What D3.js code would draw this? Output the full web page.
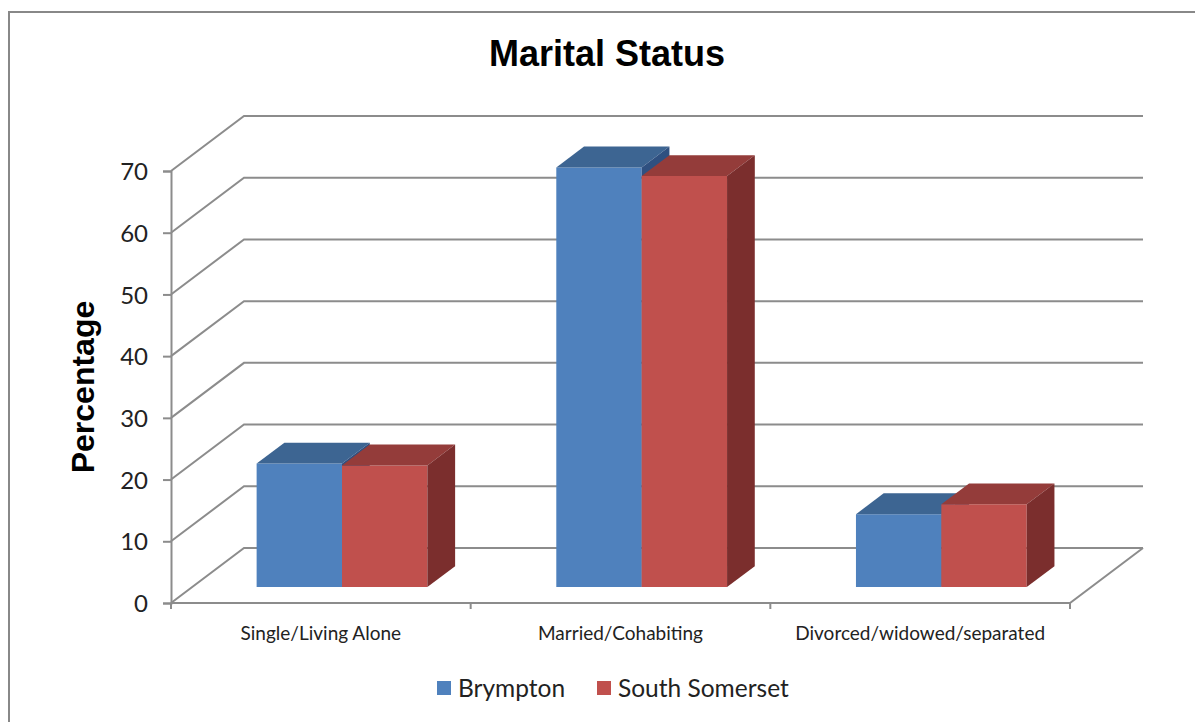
<!DOCTYPE html>
<html>
<head>
<meta charset="utf-8">
<script src="https://cdn.jsdelivr.net/npm/d3@7"></script>
<style>
  body { margin: 0; background: #fff; }
  svg { display: block; }
</style>
</head>
<body>
<div id="chart"></div>
<script>
// Data
const categories = ["Single/Living Alone", "Married/Cohabiting", "Divorced/widowed/separated"];
const seriesNames = ["Brympton", "South Somerset"];
const brympton = [20.0, 68.0, 11.8];
const southSomerset = [19.7, 66.6, 13.4];
const yTicks = [0, 10, 20, 30, 40, 50, 60, 70];

const width = 1195, height = 722;
const svg = d3.select("#chart").append("svg")
    .attr("width", width)
    .attr("height", height);

// Outer chart border
svg.append("rect")
    .attr("x", 9).attr("y", 12)
    .attr("width", 1200).attr("height", 720)
    .attr("fill", "none")
    .attr("stroke", "#888")
    .attr("stroke-width", 2);

// Title
svg.append("text")
    .attr("x", 607).attr("y", 66)
    .attr("text-anchor", "middle")
    .style("font-family", "Liberation Sans, Arial, sans-serif")
    .style("font-size", "36px")
    .style("font-weight", "bold")
    .text("Marital Status");

// Scales (front plane), plus oblique depth
const y = d3.scaleLinear().domain([0, 70]).range([603, 171]);
const x0 = d3.scaleBand().domain(categories).range([171, 1070]);
const x1 = d3.scaleBand().domain(seriesNames).range([0, x0.bandwidth()]).paddingOuter(0.755);
const depthX = 73, depthY = -55;
const proj = (px, v, z) => [px + depthX * z, y(v) + depthY * z];
const pts = arr => arr.map(p => p.join(",")).join(" ");

const grid = svg.append("g").attr("stroke", "#8c8c8c").attr("stroke-width", 2).attr("fill", "none");

// back wall gridlines and side-wall diagonals
yTicks.forEach(t => {
    grid.append("polyline")
        .attr("points", pts([proj(171, t, 0), proj(171, t, 1), proj(1070, t, 1)]));
});
// floor front edge and right diagonal
grid.append("polyline").attr("points", pts([proj(171, 0, 0), proj(1070, 0, 0), proj(1070, 0, 1)]));

// y axis line + ticks
const yAxis = svg.append("g")
    .attr("transform", "translate(171,0)")
    .call(d3.axisLeft(y).tickValues(yTicks).tickSize(8).tickPadding(15));
yAxis.select(".domain").attr("stroke", "#8c8c8c").attr("stroke-width", 2);
yAxis.selectAll(".tick line").attr("stroke", "#8c8c8c").attr("stroke-width", 2);
yAxis.selectAll(".tick text")
    .style("font-family", "Lato, Carlito, sans-serif")
    .style("font-size", "24px")
    .attr("fill", "#222")
    .attr("dy", "0.36em");

// x ticks on floor front edge
const xTickPos = [171].concat(categories.map(c => x0(c) + x0.bandwidth()));
svg.append("g").selectAll("line")
    .data(xTickPos)
    .join("line")
    .attr("x1", d => d).attr("x2", d => d)
    .attr("y1", 603).attr("y2", 609)
    .attr("stroke", "#8c8c8c").attr("stroke-width", 2);

// Category labels
svg.append("g").selectAll("text")
    .data(categories)
    .join("text")
    .attr("x", d => x0(d) + x0.bandwidth() / 2)
    .attr("y", 640)
    .attr("text-anchor", "middle")
    .style("font-family", "Lato, Carlito, sans-serif")
    .style("font-size", "19px")
    .attr("fill", "#222")
    .text(d => d);

// Axis title
svg.append("text")
    .attr("transform", "translate(94,387) rotate(-90)")
    .attr("text-anchor", "middle")
    .style("font-family", "Liberation Sans, Arial, sans-serif")
    .style("font-size", "32px")
    .style("font-weight", "bold")
    .text("Percentage");

// 3D bars
const palette = {
    Brympton: { front: "#4f81bd", top: "#3d6592", side: "#2f5080" },
    "South Somerset": { front: "#c0504d", top: "#943c3a", side: "#7b2e2d" }
};
const zFront = 0.29, zBack = 0.67;
const barData = [];
categories.forEach((c, i) => {
    barData.push({ cat: c, series: "Brympton", value: brympton[i] });
    barData.push({ cat: c, series: "South Somerset", value: southSomerset[i] });
});

const bars = svg.append("g").selectAll("g")
    .data(barData)
    .join("g");

bars.each(function(d) {
    const g = d3.select(this);
    const col = palette[d.series];
    const xl = x0(d.cat) + x1(d.series);
    const xr = xl + x1.bandwidth();
    const fbl = proj(xl, 0, zFront), fbr = proj(xr, 0, zFront);
    const ftl = proj(xl, d.value, zFront), ftr = proj(xr, d.value, zFront);
    const btl = proj(xl, d.value, zBack), btr = proj(xr, d.value, zBack);
    const bbr = proj(xr, 0, zBack);
    g.append("polygon").attr("points", pts([fbl, fbr, ftr, ftl])).attr("fill", col.front);
    g.append("polygon").attr("points", pts([ftl, ftr, btr, btl])).attr("fill", col.top);
    g.append("polygon").attr("points", pts([fbr, bbr, btr, ftr])).attr("fill", col.side);
});

// Legend
const legend = svg.append("g").attr("transform", "translate(437,688)");
const legendX = [0, 160];
seriesNames.forEach((s, i) => {
    const row = legend.append("g").attr("transform", `translate(${legendX[i]},0)`);
    row.append("rect")
        .attr("x", 0).attr("y", -7)
        .attr("width", 14).attr("height", 14)
        .attr("fill", palette[s].front);
    row.append("text")
        .attr("x", 21).attr("y", 9)
        .style("font-family", "Lato, Carlito, sans-serif")
        .style("font-size", "24.5px")
        .attr("fill", "#222")
        .text(s);
});
</script>
</body>
</html>
